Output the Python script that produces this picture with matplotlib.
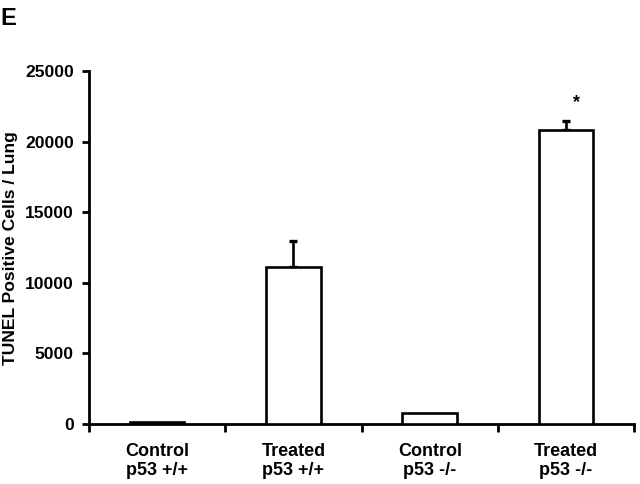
import matplotlib
matplotlib.use("Agg")
import matplotlib.pyplot as plt

groups = ["Control\np53 +/+", "Treated\np53 +/+", "Control\np53 -/-", "Treated\np53 -/-"]
cells = [150, 11100, 800, 20800]
sem = [0, 1850, 0, 700]
signif = [False, False, False, True]

plt.rcParams['font.family'] = ['Liberation Sans', 'DejaVu Sans']
plt.rcParams['font.weight'] = 'bold'

fig = plt.figure(figsize=(6.4, 4.84), dpi=100)
ax = fig.add_axes([0.139, 0.124, 0.852, 0.729])

x = list(range(len(groups)))
ax.bar(x, cells, width=0.4, color='white', edgecolor='black', linewidth=1.9, zorder=3)
for xi, v, e in zip(x, cells, sem):
    if e > 0:
        ax.errorbar(xi, v, yerr=[[0], [e]], fmt='none', ecolor='black',
                    elinewidth=1.9, capsize=3, capthick=2.4, zorder=2)
for xi, v, e, s in zip(x, cells, sem, signif):
    if s:
        ax.text(xi + 0.08, v + e + 700, '*', ha='center', va='bottom', fontsize=13)

ax.set_xlim(-0.5, 3.5)
ax.set_ylim(0, 25000)
ax.set_yticks([0, 5000, 10000, 15000, 20000, 25000])
ax.set_yticklabels(['0', '5000', '10000', '15000', '20000', '25000'], fontsize=12.6, fontweight='bold')
ax.set_xticks([-0.5, 0.5, 1.5, 2.5, 3.5])
ax.set_xticklabels([])
ax.set_xticks(x, minor=True)
ax.set_xticklabels(groups, minor=True, fontsize=13, fontweight='bold', linespacing=1.15)
ax.tick_params(axis='x', which='minor', length=0, pad=14)
ax.tick_params(axis='x', which='major', length=6, width=2, direction='out')
ax.tick_params(axis='y', length=5, width=2, direction='out', pad=6)

for side in ['top', 'right']:
    ax.spines[side].set_visible(False)
for side in ['left', 'bottom']:
    ax.spines[side].set_linewidth(2)

ax.set_ylabel('TUNEL Positive Cells / Lung', fontsize=12.6, fontweight='bold', labelpad=5)
fig.text(0.0, 0.985, 'E', fontsize=17, fontweight='bold', va='top', ha='left')

fig.savefig('out.png', dpi=100)
